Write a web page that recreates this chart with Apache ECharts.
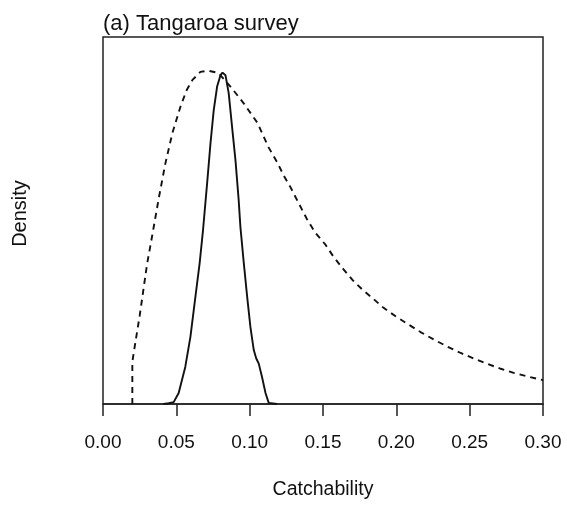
<!DOCTYPE html>
<html>
<head>
<meta charset="utf-8">
<title>Catchability density</title>
<script src="https://cdn.jsdelivr.net/npm/echarts@6/dist/echarts.min.js"></script>
<style>
  html, body { margin: 0; padding: 0; background: #ffffff; }
  #chart { width: 567px; height: 505px; }
</style>
</head>
<body>
<div id="chart"></div>
<script>
// Prior density of catchability (dashed), [q, relative density]
var priorCurve = [
  [0.020, 0], [0.020, 11.5], [0.022, 16.6], [0.025, 24.0], [0.0275, 31.0],
  [0.030, 38.0], [0.0336, 46.0], [0.038, 56.0], [0.0425, 65.5], [0.0473, 73.8],
  [0.0528, 81.0], [0.057, 85.5], [0.061, 88.3], [0.0664, 90.5], [0.0718, 90.8],
  [0.0787, 90.2], [0.0869, 86.5], [0.0958, 82.0], [0.1053, 76.6], [0.1128, 70.0],
  [0.119, 65.7], [0.123, 62.4], [0.1278, 59.1], [0.1333, 54.8], [0.1394, 50.1],
  [0.1449, 46.6], [0.1517, 43.4], [0.1572, 40.1], [0.164, 36.7], [0.1701, 33.8],
  [0.177, 31.1], [0.1845, 28.6], [0.1913, 26.2], [0.1995, 23.9], [0.2077, 21.8],
  [0.2165, 19.6], [0.2254, 17.6], [0.235, 15.6], [0.2439, 13.9], [0.2527, 12.4],
  [0.2623, 10.9], [0.2712, 9.6], [0.280, 8.5], [0.2896, 7.5], [0.300, 6.5]
];

// Posterior density of catchability (solid), [q, relative density]
var posteriorCurve = [
  [0.0412, 0], [0.0448, 0.2], [0.0482, 0.5], [0.0516, 3.0], [0.0561, 10.1],
  [0.0596, 18.3], [0.063, 29.2], [0.0659, 38.4], [0.0682, 47.4], [0.071, 60.2],
  [0.0733, 71.1], [0.0755, 80.1], [0.0778, 86.5], [0.0801, 89.6], [0.0815, 90.3],
  [0.0823, 90.6], [0.0835, 89.6], [0.0857, 84.7], [0.088, 75.5], [0.0903, 66.5],
  [0.0925, 55.6], [0.0937, 48.2], [0.096, 38.4], [0.0983, 29.2], [0.1005, 21.0],
  [0.1028, 14.7], [0.1045, 12.4], [0.1062, 11.0], [0.1085, 7.2], [0.1108, 3.0],
  [0.113, 0.3], [0.1187, 0]
];

// X-axis tick positions
var xTicks = [0.00, 0.05, 0.10, 0.15, 0.20, 0.25, 0.30];

var chart = echarts.init(document.getElementById('chart'), null, { renderer: 'canvas' });

var fontFamily = '"Liberation Sans", Arial, sans-serif';

chart.setOption({
  backgroundColor: '#ffffff',
  animation: false,
  title: {
    text: '(a) Tangaroa survey',
    left: 103,
    top: 13,
    padding: 0,
    textStyle: { fontFamily: fontFamily, fontSize: 22, fontWeight: 'normal', color: '#111' }
  },
  grid: {
    left: 103, right: 24, top: 37, bottom: 101,
    show: true,
    borderColor: '#222',
    borderWidth: 1.5,
    backgroundColor: 'transparent'
  },
  xAxis: {
    type: 'value',
    min: xTicks[0],
    max: xTicks[xTicks.length - 1],
    interval: 0.05,
    name: 'Catchability',
    nameLocation: 'middle',
    nameGap: 76,
    nameTextStyle: { fontFamily: fontFamily, fontSize: 19.5, color: '#111' },
    axisLine: { show: true, lineStyle: { color: '#222', width: 1.5 } },
    axisTick: { show: true, length: 12, lineStyle: { color: '#222', width: 1.5 } },
    axisLabel: {
      margin: 29,
      fontFamily: fontFamily,
      fontSize: 19,
      color: '#111',
      formatter: function (v) { return v.toFixed(2); }
    },
    splitLine: { show: false }
  },
  yAxis: {
    type: 'value',
    min: 0,
    max: 100,
    name: 'Density',
    nameLocation: 'middle',
    nameRotate: 90,
    nameGap: 73,
    nameTextStyle: { fontFamily: fontFamily, fontSize: 20, color: '#111', padding: [0, 0, 0, 14] },
    axisLine: { show: false },
    axisTick: { show: false },
    axisLabel: { show: false },
    splitLine: { show: false }
  },
  series: [
    {
      name: 'Prior',
      type: 'line',
      data: priorCurve,
      symbol: 'none',
      smooth: false,
      lineStyle: { color: '#111', width: 1.9, type: [6, 5] }
    },
    {
      name: 'Posterior',
      type: 'line',
      data: posteriorCurve,
      symbol: 'none',
      smooth: false,
      lineStyle: { color: '#111', width: 1.9, type: 'solid' }
    }
  ]
});
</script>
</body>
</html>
